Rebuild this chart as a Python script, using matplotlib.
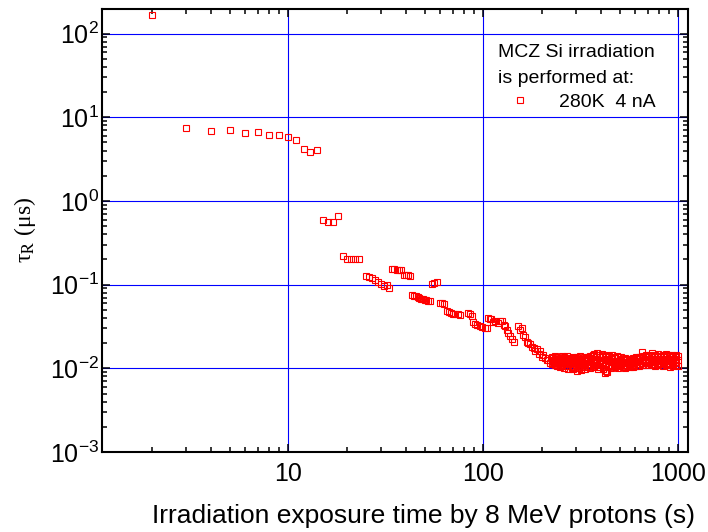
import matplotlib
matplotlib.use('Agg')
import matplotlib.pyplot as plt
from matplotlib.ticker import LogLocator, NullFormatter, FixedLocator, FixedFormatter

plt.rcParams['font.family'] = ['Liberation Sans', 'DejaVu Sans']
plt.rcParams['mathtext.fontset'] = 'custom'
plt.rcParams['mathtext.rm'] = 'Liberation Sans'
plt.rcParams['mathtext.it'] = 'Liberation Sans:italic'
plt.rcParams['mathtext.bf'] = 'Liberation Sans:bold'

# ---- data: early / segmented part ----
seg_x = [2, 3, 4, 5, 6, 7, 8, 9, 10, 11, 12, 13, 14,
         15, 16, 17, 18,
         19, 20, 21, 22, 23,
         25, 26, 27, 28, 29, 30, 31, 32, 33,
         34, 35, 36, 37, 38, 39, 40, 41, 42,
         43, 44, 45, 46, 47, 48, 49, 50, 51, 52, 53,
         54.6, 56, 57.7,
         60, 61.5, 63, 65, 66.5, 68, 70, 72, 74, 76,
         83, 85, 87, 89, 91, 93, 96, 99, 102, 105,
         106, 110, 115, 119, 124, 127, 132, 134, 137, 143,
         108, 112, 122, 129, 140,
         151, 157, 160, 167, 173, 181, 188, 195, 203, 211, 220,
         155, 163, 170, 177, 185, 192, 199, 207, 215]
seg_y = [165, 7.5, 6.9, 7.1, 6.5, 6.6, 6.1, 6.2, 5.8, 5.4, 4.15, 3.9, 4.05,
         0.59, 0.56, 0.56, 0.66,
         0.22, 0.205, 0.205, 0.20, 0.20,
         0.126, 0.124, 0.12, 0.114, 0.108, 0.103, 0.097, 0.099, 0.091,
         0.155, 0.154, 0.150, 0.149, 0.148, 0.13, 0.13, 0.129, 0.127,
         0.076, 0.074, 0.073, 0.071, 0.070, 0.068, 0.067, 0.066, 0.065, 0.064, 0.063,
         0.102, 0.106, 0.108,
         0.061, 0.061, 0.058, 0.049, 0.047, 0.046, 0.045, 0.044, 0.044, 0.0437,
         0.046, 0.044, 0.042, 0.036, 0.034, 0.033, 0.032, 0.031, 0.030, 0.030,
         0.0398, 0.0387, 0.0372, 0.0352, 0.0372, 0.0334, 0.029, 0.0265, 0.0243, 0.0208,
         0.0392, 0.0360, 0.0365, 0.0320, 0.0225,
         0.0317, 0.030, 0.025, 0.0206, 0.0193, 0.0176, 0.0168, 0.016, 0.0145, 0.0127, 0.0116,
         0.0290, 0.0240, 0.0200, 0.0182, 0.0160, 0.0150, 0.0138, 0.0132, 0.0125]

# ---- data: dense plateau ----
dense_x = [225, 228, 232, 236, 240, 244, 248, 252, 256, 260, 264, 268, 272, 277, 282,
           287, 292, 297, 302, 307, 312, 317, 322, 328, 334, 340, 346, 352, 358, 364,
           370, 377, 384, 391, 398, 405, 412, 419, 426, 434, 442, 450, 458, 466, 474,
           482, 490, 499, 508, 517, 526, 535, 545, 555, 565, 575, 585, 595, 606, 617,
           628, 639, 650, 662, 674, 686, 698, 710, 723, 736, 749, 762, 776, 790, 804,
           818, 833, 848, 863, 878, 894, 910, 926, 943, 960, 977, 995]
dense_y_upper = [0.0138, 0.0132, 0.0141, 0.0129, 0.0136, 0.0127, 0.0133, 0.0140, 0.0128, 0.0135,
                 0.0131, 0.0142, 0.0126, 0.0134, 0.0130, 0.0138, 0.0127, 0.0133, 0.0136, 0.0129,
                 0.0140, 0.0131, 0.0127, 0.0137, 0.0132, 0.0128, 0.0135, 0.0141, 0.0133, 0.0146,
                 0.0150, 0.0138, 0.0152, 0.0143, 0.0136, 0.0147, 0.0139, 0.0131, 0.0144, 0.0137,
                 0.0140, 0.0134, 0.0145, 0.0138, 0.0132, 0.0141, 0.0136, 0.0129, 0.0135, 0.0131,
                 0.0127, 0.0133, 0.0129, 0.0125, 0.0131, 0.0127, 0.0133, 0.0130, 0.0136, 0.0132,
                 0.0138, 0.0135, 0.0155, 0.0140, 0.0137, 0.0143, 0.0139, 0.0146, 0.0141, 0.0152,
                 0.0138, 0.0144, 0.0140, 0.0147, 0.0142, 0.0138, 0.0145, 0.0141, 0.0148, 0.0139,
                 0.0144, 0.0140, 0.0146, 0.0142, 0.0138, 0.0145, 0.0141]
dense_y_mid = [0.0125, 0.0121, 0.0127, 0.0119, 0.0123, 0.0120, 0.0126, 0.0118, 0.0122, 0.0124,
               0.0119, 0.0121, 0.0117, 0.0123, 0.0120, 0.0116, 0.0122, 0.0119, 0.0115, 0.0121,
               0.0118, 0.0114, 0.0120, 0.0124, 0.0117, 0.0121, 0.0125, 0.0119, 0.0123, 0.0128,
               0.0121, 0.0126, 0.0131, 0.0122, 0.0127, 0.0125, 0.0117, 0.0112, 0.0116, 0.0121,
               0.0125, 0.0119, 0.0124, 0.0121, 0.0117, 0.0123, 0.0119, 0.0116, 0.0122, 0.0118,
               0.0115, 0.0120, 0.0117, 0.0114, 0.0119, 0.0116, 0.0121, 0.0118, 0.0122, 0.0119,
               0.0124, 0.0121, 0.0126, 0.0123, 0.0120, 0.0127, 0.0124, 0.0129, 0.0125, 0.0122,
               0.0128, 0.0124, 0.0130, 0.0126, 0.0123, 0.0129, 0.0125, 0.0131, 0.0127, 0.0124,
               0.0130, 0.0126, 0.0122, 0.0128, 0.0125, 0.0131, 0.0127]
dense_y_lower = [0.0112, 0.0118, 0.0109, 0.0115, 0.0106, 0.0113, 0.0104, 0.0110, 0.0117, 0.0101,
                 0.0108, 0.0114, 0.0099, 0.0106, 0.0112, 0.0097, 0.0104, 0.0110, 0.0093, 0.0101,
                 0.0107, 0.0096, 0.0103, 0.0110, 0.0098, 0.0105, 0.0112, 0.0100, 0.0107, 0.0115,
                 0.0103, 0.0110, 0.0118, 0.0104, 0.0112, 0.0120, 0.0098, 0.0089, 0.0094, 0.0103,
                 0.0109, 0.0101, 0.0107, 0.0113, 0.0104, 0.0110, 0.0102, 0.0108, 0.0114, 0.0103,
                 0.0109, 0.0101, 0.0107, 0.0112, 0.0103, 0.0108, 0.0104, 0.0110, 0.0106, 0.0112,
                 0.0107, 0.0113, 0.0109, 0.0115, 0.0110, 0.0116, 0.0111, 0.0117, 0.0112, 0.0118,
                 0.0113, 0.0108, 0.0115, 0.0110, 0.0117, 0.0112, 0.0106, 0.0114, 0.0109, 0.0116,
                 0.0111, 0.0105, 0.0113, 0.0108, 0.0115, 0.0110, 0.0106]
# extra scattered plateau points between the rows
extra_x = [235, 250, 266, 285, 300, 315, 332, 350, 368, 388, 408, 430, 455, 480, 505,
           530, 560, 590, 620, 655, 690, 725, 760, 800, 840, 880, 920, 965]
extra_y = [0.0130, 0.0107, 0.0133, 0.0102, 0.0128, 0.0099, 0.0131, 0.0106, 0.0142, 0.0098,
           0.0135, 0.0091, 0.0129, 0.0107, 0.0127, 0.0105, 0.0124, 0.0108, 0.0129, 0.0111,
           0.0135, 0.0109, 0.0138, 0.0113, 0.0136, 0.0112, 0.0137, 0.0118]

x_major = [10, 100, 1000]
x_major_labels = ['10', '100', '1000']
series_label = '280K  4 nA'
legend_title_lines = ['MCZ Si irradiation', 'is performed at:']

# combine
all_x = list(seg_x)
all_y = list(seg_y)
for xs, ys in ((dense_x, dense_y_upper), (dense_x, dense_y_mid),
               (dense_x, dense_y_lower), (extra_x, extra_y)):
    n = min(len(xs), len(ys))
    all_x += xs[:n]
    all_y += ys[:n]
n = min(len(all_x), len(all_y))
all_x, all_y = all_x[:n], all_y[:n]

W, H = 708, 532
fig = plt.figure(figsize=(W / 100, H / 100), dpi=100)
L, R, T, B = 102, 688, 9, 452
ax = fig.add_axes([L / W, 1 - B / H, (R - L) / W, (B - T) / H])

mk = dict(ls='none', marker='s', mfc='none', mec='red', ms=3.7, mew=0.8)
ax.plot(all_x, all_y, **mk, zorder=3)

ax.set_xscale('log')
ax.set_yscale('log')
ax.set_xlim(1.11, 1120)
ax.set_ylim(1e-3, 197)

ax.xaxis.set_major_locator(FixedLocator(x_major))
ax.xaxis.set_major_formatter(FixedFormatter(x_major_labels))
ax.xaxis.set_minor_locator(LogLocator(base=10, subs=range(2, 10), numticks=20))
ax.xaxis.set_minor_formatter(NullFormatter())
ax.yaxis.set_major_locator(LogLocator(base=10, numticks=20))
ax.yaxis.set_minor_locator(LogLocator(base=10, subs=range(2, 10), numticks=20))
ax.yaxis.set_minor_formatter(NullFormatter())

ax.grid(which='major', color='#0000ff', lw=0.8, zorder=1)
ax.set_axisbelow(True)

for s in ax.spines.values():
    s.set_linewidth(1.5)
ax.tick_params(which='both', direction='in', top=True, right=True, width=1.1)
ax.tick_params(which='major', length=6)
ax.tick_params(which='minor', length=3.3)
ax.tick_params(axis='x', which='major', labelsize=18, pad=7)
ax.tick_params(axis='y', which='major', labelsize=18, pad=2)

fig.text(424 / W, 1 - 516 / H, 'Irradiation exposure time by 8 MeV protons (s)',
         ha='center', va='center', fontsize=19)
fig.text(25 / W, 1 - 230 / H, r'τ$_{\mathrm{R}}$ (μs)', rotation=90,
         ha='center', va='center', fontsize=17, family='Liberation Serif',
         math_fontfamily='stix')

def ax_frac(px, py):
    return (px - L) / (R - L), (B - py) / (B - T)

for line, base in zip(legend_title_lines, [57.3, 82.7]):
    ax.text(*ax_frac(498, base), line, ha='left', va='baseline', fontsize=14,
            transform=ax.transAxes)
ax.text(*ax_frac(559, 107.3), series_label, ha='left', va='baseline', fontsize=14,
        transform=ax.transAxes)
ax.plot([ax_frac(520, 100)[0]], [ax_frac(520, 100)[1]], transform=ax.transAxes, **mk)

fig.savefig('out.png', dpi=100)
